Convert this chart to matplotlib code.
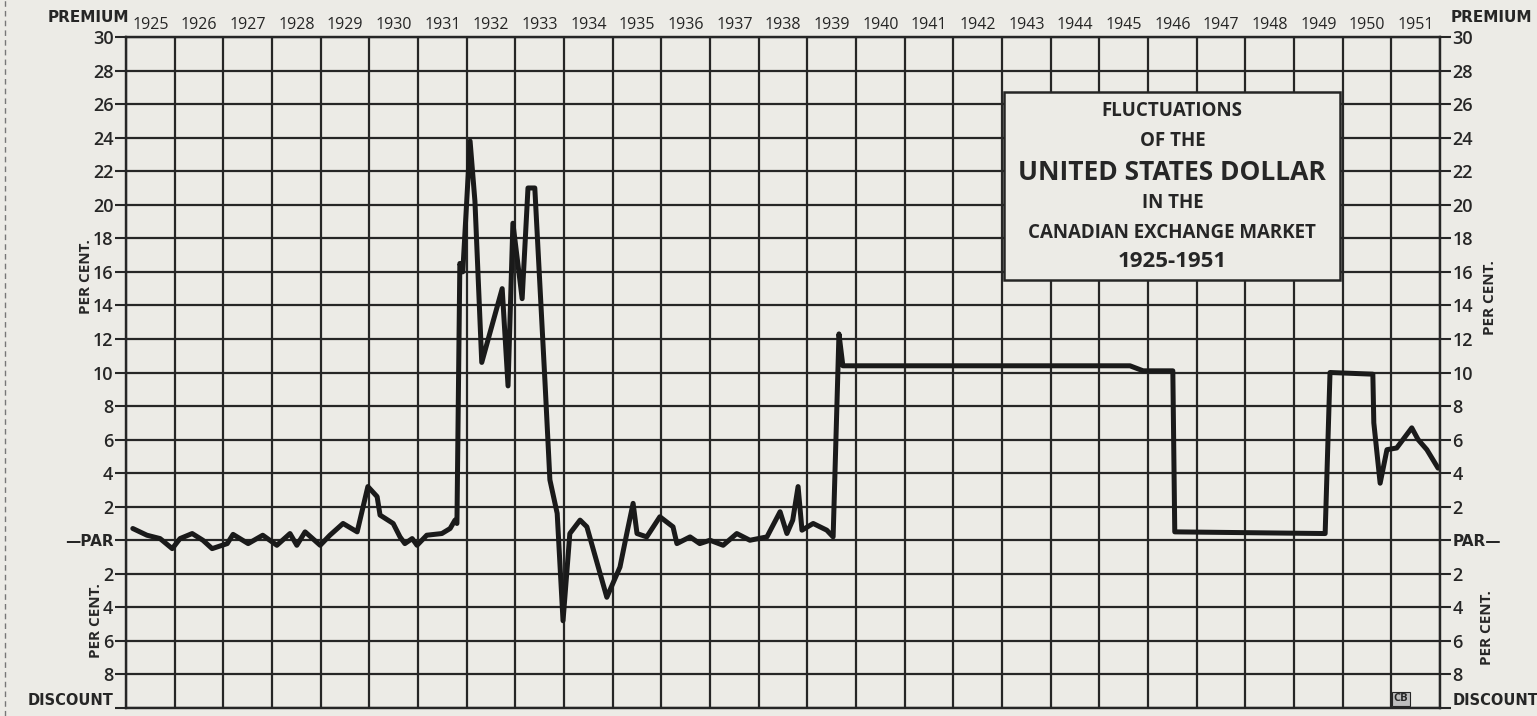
import matplotlib
matplotlib.use("Agg")
import matplotlib.pyplot as plt
from matplotlib.patches import Rectangle
from matplotlib.lines import Line2D

# datos (prima del dolar US en Canada, %)
years = [1925.14, 1925.43, 1925.70, 1925.95, 1926.11, 1926.36, 1926.58, 1926.77,
         1927.08, 1927.20, 1927.51, 1927.81, 1928.10, 1928.37, 1928.51, 1928.68,
         1928.99, 1929.19, 1929.46, 1929.75, 1929.97, 1930.16, 1930.22, 1930.49,
         1930.63, 1930.73, 1930.88, 1930.98, 1931.18, 1931.49, 1931.66, 1931.76,
         1931.80, 1931.86, 1931.92, 1932.07, 1932.17, 1932.31, 1932.73, 1932.85,
         1932.95, 1933.14, 1933.26, 1933.40, 1933.61, 1933.71, 1933.86, 1933.98,
         1934.12, 1934.33, 1934.47, 1934.88, 1935.15, 1935.29, 1935.42, 1935.50,
         1935.70, 1935.97, 1936.24, 1936.32, 1936.59, 1936.79, 1937.00, 1937.27,
         1937.55, 1937.82, 1938.17, 1938.44, 1938.58, 1938.70, 1938.81, 1938.89,
         1939.12, 1939.40, 1939.53, 1939.65, 1939.73, 1945.63, 1945.90, 1946.51,
         1946.55, 1949.64, 1949.74, 1950.62, 1950.64, 1950.77, 1950.91, 1951.11,
         1951.42, 1951.55, 1951.73, 1951.96]
premium = [0.7, 0.3, 0.1, -0.5, 0.1, 0.4, 0.0, -0.5,
           -0.2, 0.35, -0.2, 0.3, -0.3, 0.4, -0.3, 0.5,
           -0.3, 0.3, 1.0, 0.5, 3.2, 2.6, 1.5, 1.0,
           0.2, -0.2, 0.1, -0.3, 0.3, 0.4, 0.7, 1.2,
           1.0, 16.5, 16.0, 23.8, 20.2, 10.6, 15.0, 9.2,
           18.9, 14.4, 21.0, 21.0, 9.4, 3.6, 1.6, -4.8,
           0.4, 1.2, 0.8, -3.4, -1.6, 0.4, 2.2, 0.4,
           0.2, 1.4, 0.8, -0.2, 0.2, -0.2, 0.0, -0.3,
           0.4, 0.0, 0.2, 1.7, 0.4, 1.2, 3.2, 0.6,
           1.0, 0.6, 0.2, 12.3, 10.4, 10.4, 10.1, 10.1,
           0.5, 0.4, 10.0, 9.9, 7.0, 3.4, 5.4, 5.5,
           6.7, 6.0, 5.4, 4.3]

year_labels = list(range(1925, 1952))
y_ticks = list(range(-10, 31, 2))
title_lines = ["FLUCTUATIONS", "OF THE", "UNITED STATES DOLLAR", "IN THE",
               "CANADIAN EXCHANGE MARKET", "1925-1951"]

#%% estilo
paper = "#ecebe6"
ink = "#262626"
fnt = ["Open Sans", "DejaVu Sans"]
narrow = ["Liberation Sans Narrow", "DejaVu Sans"]

fig = plt.figure(figsize=(15.37, 7.16), dpi=100, facecolor=paper)
ax = fig.add_axes([126/1537, 1 - 708/716, 1314/1537, 671/716])
ax.set_facecolor(paper)
ax.set_xlim(1925, 1952)
ax.set_ylim(-10, 30)

ax.set_xticks(range(1925, 1953))
ax.set_xticks([y + 0.5 for y in year_labels], minor=True)
ax.set_xticklabels([str(y) for y in year_labels], minor=True, family=fnt, fontsize=11.5, color=ink)
ax.tick_params(axis="x", which="both", bottom=False, labelbottom=False, top=False, labeltop=False)
ax.tick_params(axis="x", which="minor", labeltop=True, length=0, pad=3)
ax.xaxis.set_ticklabels([], minor=False)

def lab_left(v):
    if v == -10:
        return "DISCOUNT"
    if v == 0:
        return "—PAR"
    return str(abs(v))

def lab_right(v):
    if v == -10:
        return "DISCOUNT"
    if v == 0:
        return "PAR—"
    return str(abs(v))

ax.set_yticks(y_ticks)
ax.set_yticklabels([lab_left(v) for v in y_ticks], family=fnt, fontsize=13,
                   fontweight="semibold", color=ink)
ax.tick_params(axis="y", direction="out", length=8, width=1.5, color=ink, pad=1)

ax2 = ax.twinx()
ax2.set_ylim(-10, 30)
ax2.set_yticks(y_ticks)
ax2.set_yticklabels([lab_right(v) for v in y_ticks], family=fnt, fontsize=13,
                    fontweight="semibold", color=ink)
ax2.tick_params(axis="y", direction="out", length=8, width=1.5, color=ink, pad=1)

for a in (ax, ax2):
    for lbl in a.get_yticklabels():
        if lbl.get_text() == "DISCOUNT":
            lbl.set_fontfamily(narrow)
            lbl.set_fontweight("bold")
            lbl.set_fontsize(10.5)
            lbl.set_verticalalignment("bottom")
        if "PAR" in lbl.get_text():
            lbl.set_fontfamily(narrow)
            lbl.set_fontweight("bold")
            lbl.set_fontsize(11)
    for s in a.spines.values():
        s.set_color(ink)
        s.set_linewidth(1.6)

ax.grid(True, which="major", color=ink, linewidth=1.6)
ax.set_axisbelow(True)

# linea de la serie
ax.plot(years, premium, color="#1a1a1a", linewidth=3.6, solid_joinstyle="round",
        solid_capstyle="round", zorder=3)

# recuadro del titulo
ax.add_patch(Rectangle((1943.05, 15.5), 6.9, 11.2, facecolor=paper, edgecolor=ink,
                       linewidth=1.8, zorder=4))
title_y = [25.6, 23.8, 21.9, 20.1, 18.3, 16.6]
title_fs = [13.5, 13.5, 19, 13.5, 13.5, 16]
for txt, ty, fs in zip(title_lines, title_y, title_fs):
    ax.text(1946.5, ty, txt, ha="center", va="center", fontsize=fs, family=fnt,
            fontweight="bold", color=ink, zorder=5)

# textos laterales
fig.text(88/1537, 1 - 17/716, "PREMIUM", ha="center", va="center", family=narrow,
         fontweight="bold", fontsize=11, color=ink)
fig.text(1491/1537, 1 - 17/716, "PREMIUM", ha="center", va="center", family=narrow,
         fontweight="bold", fontsize=11, color=ink)
for px, py in [(86, 277), (96, 621), (1490, 298), (1487, 628)]:
    fig.text(px/1537, 1 - py/716, "PER CENT.", rotation=90, ha="center", va="center",
             family=fnt, fontweight="bold", fontsize=11, color=ink)

ax.text(1951.05, -9.6, "CB", fontsize=8, family=fnt, fontweight="bold", color=ink,
        bbox=dict(facecolor="#bdbdbd", edgecolor=ink, pad=1, linewidth=0.8), zorder=5)

fig.add_artist(Line2D([5/1537, 5/1537], [0, 1], transform=fig.transFigure,
                      color="#777777", linewidth=1, linestyle=(0, (4, 3))))

fig.savefig("out.png", dpi=100, facecolor=paper)
